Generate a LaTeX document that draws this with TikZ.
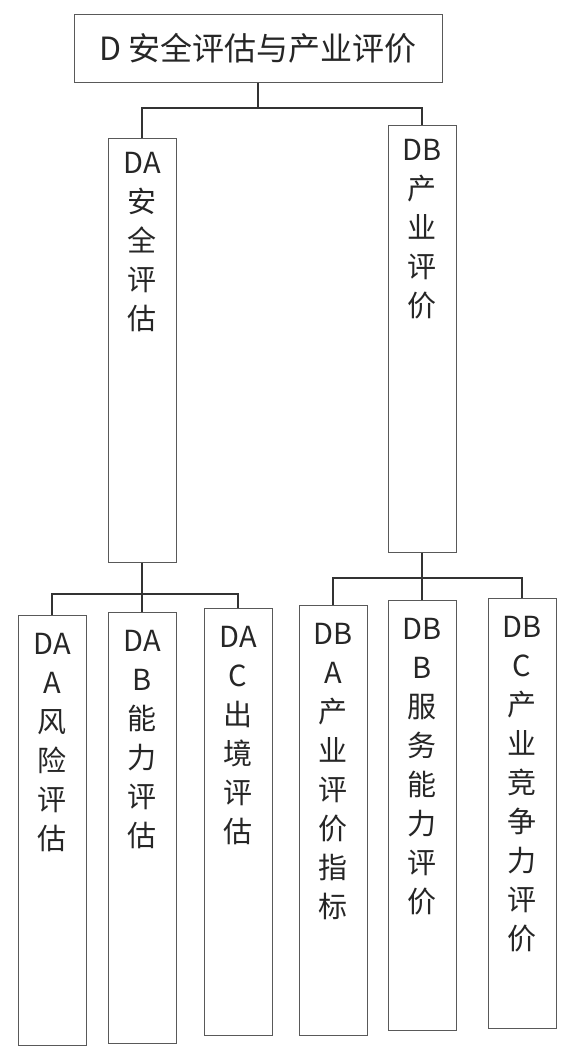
\documentclass[tikz,border=0pt]{standalone}
\usepackage{fontspec}
\setmainfont{Noto Sans CJK SC}
\begin{document}
\begin{tikzpicture}[x=1pt,y=-1pt,
  box/.style={draw=black!65, line width=0.8pt, minimum width=68pt, anchor=north, inner sep=0pt},
  txt/.style={font=\fontsize{29}{39}\selectfont, align=center, inner sep=0pt, anchor=north, text=black!85},
  conn/.style={draw=black!80, line width=1.5pt}]
\useasboundingbox (0,0) rectangle (563,1051);
% top
\node[box, minimum width=368pt, minimum height=68pt, font=\fontsize{32}{36}\selectfont, text=black!85] (d) at (258,14) {D 安全评估与产业评价};
% level 2
\node[box, minimum height=424pt] (da) at (142,138) {};
\node[txt] (daT) at ([yshift=-14pt]da.north) {DA\\安\\全\\评\\估};
\node[box, minimum height=427pt] (db) at (422,125) {};
\node[txt] (dbT) at ([yshift=-14pt]db.north) {DB\\产\\业\\评\\价};
% level 3
\node[box, minimum height=430pt] (daa) at (52,615) {};
\node[txt] (daaT) at ([yshift=-18pt]daa.north) {DA\\A\\风\\险\\评\\估};
\node[box, minimum height=431pt] (dab) at (142,612) {};
\node[txt] (dabT) at ([yshift=-18pt]dab.north) {DA\\B\\能\\力\\评\\估};
\node[box, minimum height=427pt] (dac) at (238,608) {};
\node[txt] (dacT) at ([yshift=-18pt]dac.north) {DA\\C\\出\\境\\评\\估};
\node[box, minimum height=430pt] (dba) at (333,605) {};
\node[txt] (dbaT) at ([yshift=-18pt]dba.north) {DB\\A\\产\\业\\评\\价\\指\\标};
\node[box, minimum height=430pt] (dbb) at (422,600) {};
\node[txt] (dbbT) at ([yshift=-18pt]dbb.north) {DB\\B\\服\\务\\能\\力\\评\\价};
\node[box, minimum height=430pt] (dbc) at (522,598) {};
\node[txt] (dbcT) at ([yshift=-18pt]dbc.north) {DB\\C\\产\\业\\竞\\争\\力\\评\\价};
% connectors
\coordinate (b1) at (0,108);
\coordinate (b2) at (0,594);
\coordinate (b3) at (0,578);
\draw[conn] (d.south) |- (da.north |- b1) -- (da.north);
\draw[conn] (d.south) |- (db.north |- b1) -- (db.north);
\draw[conn] (da.south) -- (da.south |- b2);
\draw[conn] (daa.north) |- (dac.north |- b2) -- (dac.north);
\draw[conn] (dab.north) -- (dab.north |- b2);
\draw[conn] (db.south) -- (db.south |- b3);
\draw[conn] (dba.north) |- (dbc.north |- b3) -- (dbc.north);
\draw[conn] (dbb.north) -- (dbb.north |- b3);
\end{tikzpicture}
\end{document}
